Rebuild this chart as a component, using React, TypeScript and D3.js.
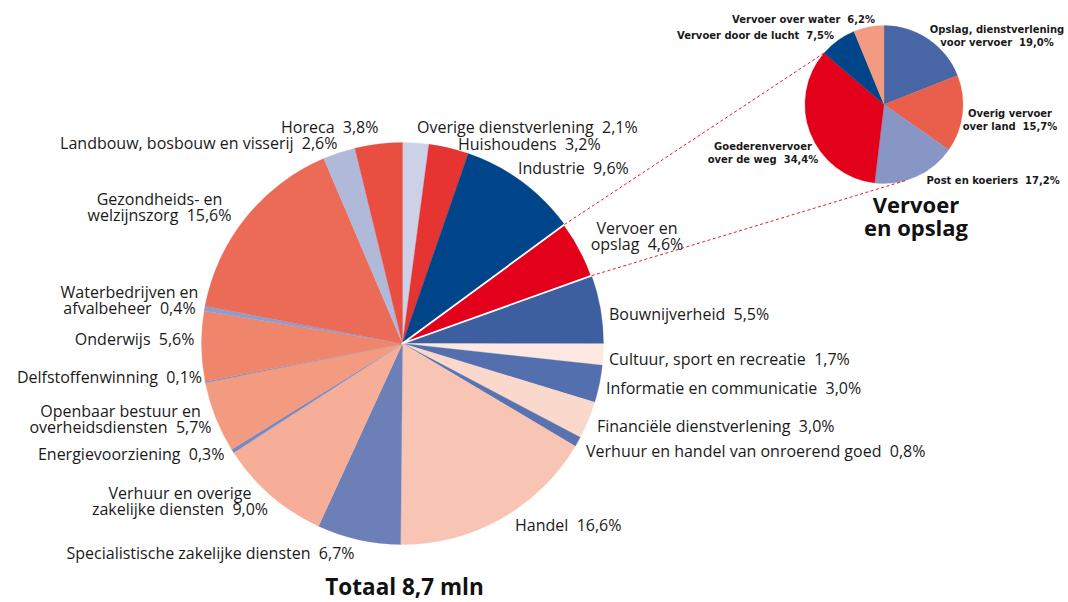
import React from 'react';
import * as d3 from 'd3';

// ---------- Data ----------
const mainCategories = [
  'Overige dienstverlening',
  'Huishoudens',
  'Industrie',
  'Vervoer en\nopslag',
  'Bouwnijverheid',
  'Cultuur, sport en recreatie',
  'Informatie en communicatie',
  'Financiële dienstverlening',
  'Verhuur en handel van onroerend goed',
  'Handel',
  'Specialistische zakelijke diensten',
  'Verhuur en overige\nzakelijke diensten',
  'Energievoorziening',
  'Openbaar bestuur en\noverheidsdiensten',
  'Delfstoffenwinning',
  'Onderwijs',
  'Waterbedrijven en\nafvalbeheer',
  'Gezondheids- en\nwelzijnszorg',
  'Landbouw, bosbouw en visserij',
  'Horeca',
];
const mainValues = [2.1, 3.2, 9.6, 4.6, 5.5, 1.7, 3.0, 3.0, 0.8, 16.6, 6.7, 9.0, 0.3, 5.7, 0.1, 5.6, 0.4, 15.6, 2.6, 3.8];
const mainColors = [
  '#ccd1e8', '#e53431', '#00448a', '#e2001a', '#3d5e9f', '#fde8e2', '#546fae', '#fad8cb', '#5873b0', '#f8c5b4',
  '#6c7fb6', '#f6ae98', '#7789c1', '#f29b80', '#7b8ec6', '#ef866b', '#8d9dd0', '#ec6b57', '#b1b9da', '#e84f40',
];
const highlightIndex = 3;

const subCategories = [
  'Opslag, dienstverlening\nvoor vervoer',
  'Overig vervoer\nover land',
  'Post en koeriers',
  'Goederenvervoer\nover de weg',
  'Vervoer door de lucht',
  'Vervoer over water',
];
const subValues = [19.0, 15.7, 17.2, 34.4, 7.5, 6.2];
const subColors = ['#4866a5', '#e95f4b', '#8796c5', '#e2001a', '#00448a', '#f29a82'];

const mainTitle = 'Totaal 8,7 mln';
const subTitle = ['Vervoer', 'en opslag'];

// ---------- Layout (separate from data) ----------
const W = 1068;
const H = 602;
const main = { cx: 402.5, cy: 343.5, r: 201 };
const sub = { cx: 884, cy: 104.5, r: 79 };

type Pos = { a: 'start' | 'middle' | 'end'; x: number; y: number };
const mainLabelPos: Pos[] = [
  { a: 'start', x: 417, y: 133 },
  { a: 'start', x: 458, y: 149.5 },
  { a: 'start', x: 518, y: 174 },
  { a: 'middle', x: 637, y: 233.5 },
  { a: 'start', x: 609, y: 320 },
  { a: 'start', x: 609, y: 365 },
  { a: 'start', x: 606, y: 393.5 },
  { a: 'start', x: 597, y: 431.5 },
  { a: 'start', x: 586, y: 456.5 },
  { a: 'start', x: 515, y: 530.5 },
  { a: 'start', x: 66.5, y: 558.5 },
  { a: 'middle', x: 180, y: 498.5 },
  { a: 'end', x: 224.5, y: 459.5 },
  { a: 'middle', x: 120.5, y: 416.5 },
  { a: 'end', x: 202, y: 382.5 },
  { a: 'end', x: 194.5, y: 345 },
  { a: 'middle', x: 129.5, y: 298 },
  { a: 'middle', x: 159.5, y: 205 },
  { a: 'end', x: 337.5, y: 149 },
  { a: 'end', x: 378.5, y: 133 },
];
const mainLineH = 16;

const subLabelPos: Pos[] = [
  { a: 'middle', x: 997, y: 32.5 },
  { a: 'middle', x: 1010, y: 116.5 },
  { a: 'start', x: 926.5, y: 183.5 },
  { a: 'middle', x: 763, y: 150 },
  { a: 'end', x: 834, y: 38.5 },
  { a: 'end', x: 875, y: 22.5 },
];
const subLineH = 13.4;

const fmt = (v: number) => v.toFixed(1).replace('.', ',') + '%';

function Label({ text, value, pos, lineH, style }: { text: string; value: number; pos: Pos; lineH: number; style: React.CSSProperties }) {
  const lines = text.split('\n');
  return (
    <text x={pos.x} y={pos.y} textAnchor={pos.a} style={style}>
      {lines.map((l, i) => (
        <tspan key={i} x={pos.x} y={pos.y + i * lineH}>
          {i === lines.length - 1 ? `${l}\u00a0\u00a0${fmt(value)}` : l}
        </tspan>
      ))}
    </text>
  );
}

export default function App() {
  const pie = d3.pie<number>().sort(null).value((d) => d);
  const mainArcs = pie(mainValues);
  const subArcs = pie(subValues);
  const mainArc = d3.arc<d3.PieArcDatum<number>>().innerRadius(0).outerRadius(main.r);
  const subArc = d3.arc<d3.PieArcDatum<number>>().innerRadius(0).outerRadius(sub.r);

  const polar = (c: { cx: number; cy: number }, r: number, a: number): [number, number] => [
    c.cx + r * Math.sin(a),
    c.cy - r * Math.cos(a),
  ];

  // connector lines from the highlighted slice to the detail pie
  const hl = mainArcs[highlightIndex];
  const p1 = polar(main, main.r, hl.startAngle);
  const p2 = polar(main, main.r, hl.endAngle);
  // upper line meets the detail pie at the start of 'Vervoer door de lucht'
  const q1 = polar(sub, sub.r, subArcs[4].startAngle);
  // lower line is tangent to the detail pie (lower tangent)
  const dx = p2[0] - sub.cx;
  const dy = p2[1] - sub.cy;
  const d = Math.hypot(dx, dy);
  const base = Math.atan2(dy, dx);
  const off = Math.acos(sub.r / d);
  const ta = base - off;
  const q2: [number, number] = [sub.cx + sub.r * Math.cos(ta), sub.cy + sub.r * Math.sin(ta)];

  const mainFont: React.CSSProperties = { fontFamily: "'Open Sans', 'Noto Sans', sans-serif", fontSize: 16, fill: '#1a1a1a' };
  const subFont: React.CSSProperties = {
    fontFamily: "'DejaVu Sans Condensed', 'Liberation Sans Narrow', 'Open Sans', sans-serif",
    fontStretch: 'condensed',
    fontWeight: 700,
    fontSize: 11.1,
    fill: '#1a1a1a',
  };

  return (
    <svg width={W} height={H} style={{ position: 'absolute', left: 0, top: 0, background: '#fff' }}>
      <g transform={`translate(${main.cx},${main.cy})`}>
        {mainArcs.map((a, i) => (
          <path key={i} d={mainArc(a) || ''} fill={mainColors[i]} stroke={mainColors[i]} strokeWidth={0.3} />
        ))}
        <path d={mainArc(hl) || ''} fill={mainColors[highlightIndex]} stroke="#fff" strokeWidth={1.8} strokeLinejoin="round" />
      </g>
      <g transform={`translate(${sub.cx},${sub.cy})`}>
        {subArcs.map((a, i) => (
          <path key={i} d={subArc(a) || ''} fill={subColors[i]} stroke={subColors[i]} strokeWidth={0.3} />
        ))}
      </g>
      <line x1={p1[0]} y1={p1[1]} x2={q1[0]} y2={q1[1]} stroke="#e2001a" strokeWidth={0.9} strokeDasharray="3,2.5" />
      <line x1={p2[0]} y1={p2[1]} x2={q2[0]} y2={q2[1]} stroke="#e2001a" strokeWidth={0.9} strokeDasharray="3,2.5" />

      {mainCategories.map((c, i) => (
        <Label key={i} text={c} value={mainValues[i]} pos={mainLabelPos[i]} lineH={mainLineH} style={mainFont} />
      ))}
      {subCategories.map((c, i) => (
        <Label key={i} text={c} value={subValues[i]} pos={subLabelPos[i]} lineH={subLineH} style={subFont} />
      ))}

      <text x={404.5} y={595} textAnchor="middle" style={{ fontFamily: "'Open Sans', sans-serif", fontWeight: 700, fontSize: 22.5, fill: '#111' }}>
        {mainTitle}
      </text>
      <text x={916} y={212.5} textAnchor="middle" style={{ fontFamily: "'Open Sans', sans-serif", fontWeight: 700, fontSize: 22, fill: '#111' }}>
        {subTitle.map((t, i) => (
          <tspan key={i} x={916} y={212.5 + i * 23.3}>
            {t}
          </tspan>
        ))}
      </text>
    </svg>
  );
}
